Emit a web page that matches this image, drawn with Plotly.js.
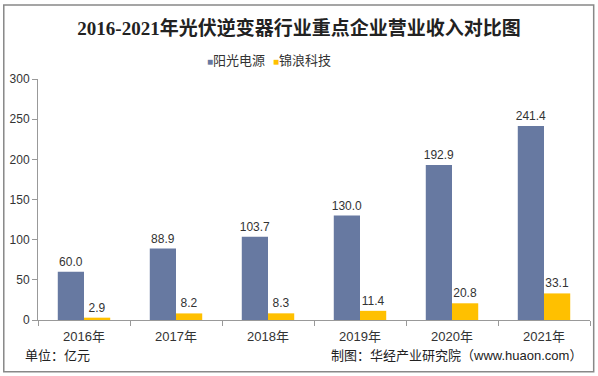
<!DOCTYPE html>
<html><head><meta charset="utf-8">
<script src="https://cdn.plot.ly/plotly-3.0.1.min.js"></script>
<style>html,body{margin:0;padding:0;background:#fff}#c{width:598px;height:376px}</style>
</head><body><div id="c"></div>
<script>
const categories = ["2016年","2017年","2018年","2019年","2020年","2021年"];
const sungrow = [60.0, 88.9, 103.7, 130.0, 192.9, 241.4];
const goodwe = [2.9, 8.2, 8.3, 11.4, 20.8, 33.1];
const seriesNames = ["阳光电源","锦浪科技"];
const seriesColors = ['#6779A1','#FFC000'];
const yTicks = [0,50,100,150,200,250,300];

const font = "Arial, 'Liberation Sans', 'Noto Sans CJK SC', sans-serif";
const traces = [
  {type:'bar', name:seriesNames[0], x:categories, y:sungrow, marker:{color:seriesColors[0]},
   text:sungrow.map(v=>v.toFixed(1)), textposition:'outside', cliponaxis:false, constraintext:'none',
   textfont:{size:12,color:'#333',family:font}},
  {type:'bar', name:seriesNames[1], x:categories, y:goodwe, marker:{color:seriesColors[1]},
   text:goodwe.map(v=>v.toFixed(1)), textposition:'outside', cliponaxis:false, constraintext:'none',
   textfont:{size:12,color:'#333',family:font}}
];
const legendX = [0.302, 0.423];
const legendAnn = seriesNames.map((n,i)=>({
  text:'<span style="color:'+seriesColors[i]+';font-size:10px">■</span>'+n,
  xref:'paper', yref:'paper', x:legendX[i], y:1.075, xanchor:'left', yanchor:'middle',
  showarrow:false, font:{size:13,color:'#333',family:font}
}));
const layout = {
  width:598, height:376, paper_bgcolor:'#fff', plot_bgcolor:'#fff',
  margin:{l:38, r:8, t:79, b:56},
  barmode:'group', bargap:0.43, bargroupgap:0,
  font:{family:font, size:12, color:'#333'},
  title:{text:'<b>2016-2021年光伏逆变器行业重点企业营业收入对比图</b>',
    font:{family:"'Liberation Serif', 'Noto Sans CJK SC', serif", size:19, color:'#222'},
    x:0.5, xanchor:'center', y:0.925, yanchor:'middle'},
  showlegend:false,
  xaxis:{type:'category', showline:true, linecolor:'#999', linewidth:1,
    ticks:'outside', tickson:'boundaries', ticklen:5, tickcolor:'#999', ticklabelstandoff:4,
    tickfont:{size:13,color:'#333'}, showgrid:false, fixedrange:true},
  yaxis:{range:[0,300], tickvals:yTicks, showline:true, linecolor:'#999', linewidth:1,
    ticks:'outside', ticklen:5, tickcolor:'#999', showgrid:false, zeroline:false,
    tickfont:{size:12,color:'#333'}},
  shapes:[{type:'rect', xref:'paper', yref:'paper', x0:-0.062, x1:1.0067, y0:-0.215, y1:1.307,
    line:{color:'#888', width:1.5}, fillcolor:'rgba(0,0,0,0)'}],
  annotations:legendAnn.concat([
    {text:'单位：亿元', xref:'paper', yref:'paper', x:-0.027, y:-0.149, xanchor:'left', yanchor:'middle',
      showarrow:false, font:{size:13,color:'#222'}},
    {text:'制图：华经产业研究院（www.huaon.com）', xref:'paper', yref:'paper', x:0.99, y:-0.149,
      xanchor:'right', yanchor:'middle', showarrow:false, font:{size:13,color:'#222'}}
  ])
};
Plotly.newPlot('c', traces, layout, {displayModeBar:false, staticPlot:true});
</script></body></html>
